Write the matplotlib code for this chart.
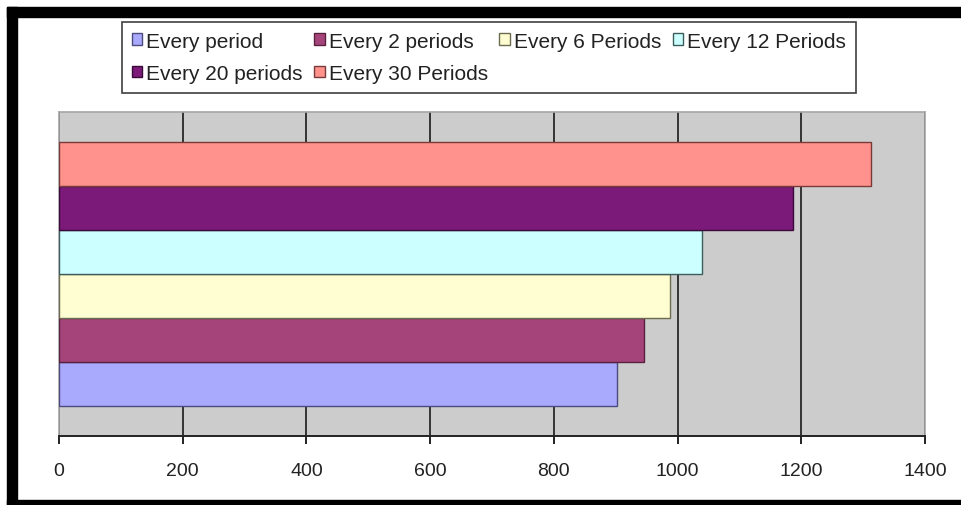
import matplotlib
matplotlib.use("Agg")
import matplotlib.pyplot as plt
from matplotlib.patches import Rectangle
import numpy as np

plt.rcParams['font.family'] = ['Liberation Sans', 'DejaVu Sans']

# series, bottom to top
series = ['Every period', 'Every 2 periods', 'Every 6 Periods',
          'Every 12 Periods', 'Every 20 periods', 'Every 30 Periods']
values = [902, 946, 987, 1040, 1186, 1312]
colors = ['#a9a9fd', '#a5447a', '#fffdd2', '#ccffff', '#7b1a79', '#ff928d']
edges = ['#4b4b80', '#5a2040', '#6b6b50', '#3d5c5c', '#3a0a3a', '#7a3a38']
xticks = [0, 200, 400, 600, 800, 1000, 1200, 1400]

W, H = 961, 506
fig = plt.figure(figsize=(W / 100, H / 100), dpi=100)
fig.patch.set_facecolor('white')

ax = fig.add_axes([59 / W, 1 - 437 / H, (925 - 59) / W, (437 - 113) / H])
ax.set_facecolor('#cccccc')

# one category, bars stacked side by side within it
bar_h = 0.1358
group = bar_h * len(values)
y0 = -group / 2
handles = {}
for i, (name, v, c, e) in enumerate(zip(series, values, colors, edges)):
    b = ax.barh(y0 + bar_h * (i + 0.5), v, height=bar_h, color=c,
                edgecolor=e, linewidth=1.0, zorder=3)
    handles[name] = b

ax.set_xlim(0, 1400)
ax.set_ylim(-0.5, 0.5)
ax.set_xticks(xticks)
ax.set_xticklabels([str(t) for t in xticks])
ax.set_yticks([])
ax.xaxis.grid(True, color='#333333', linewidth=1.4, zorder=1)
ax.set_axisbelow(True)
ax.tick_params(axis='x', direction='out', length=6, width=1.4,
               color='#222222', pad=13, labelsize=14, labelcolor='#222222')

for side in ['top', 'right', 'left']:
    ax.spines[side].set_color('#a6a6a6')
    ax.spines[side].set_linewidth(1.2)
ax.spines['bottom'].set_color('#222222')
ax.spines['bottom'].set_linewidth(1.4)

# legend rows: period, 2, 6, 12 / 20, 30 (column-major order)
order = ['Every period', 'Every 20 periods', 'Every 2 periods',
         'Every 30 Periods', 'Every 6 Periods', 'Every 12 Periods']
leg = fig.legend([handles[k] for k in order], order, ncol=4,
                 loc='upper left', bbox_to_anchor=(122 / W, 1 - 23 / H),
                 fontsize=15, handlelength=0.5, handleheight=0.5,
                 handletextpad=0.2, columnspacing=0.55, labelspacing=0.64,
                 borderpad=0.46, borderaxespad=0, fancybox=False,
                 framealpha=1, edgecolor='#404040')
leg.get_frame().set_linewidth(1.2)
for t in leg.get_texts():
    t.set_color('#222222')

# black frame around the chart
def band(x, y, w, h):
    fig.add_artist(Rectangle((x / W, 1 - (y + h) / H), w / W, h / H,
                             transform=fig.transFigure, color='black',
                             zorder=10))

band(7, 8, W - 7, 10)
band(7, 8, 10, H - 8)
band(7, 501, W - 7, 5)

fig.savefig('out.png', dpi=100)
